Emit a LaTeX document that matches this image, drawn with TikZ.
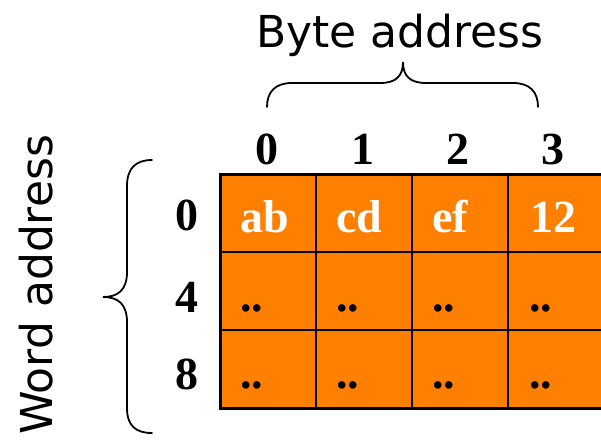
\documentclass[tikz,border=0pt]{standalone}
\usepackage{fontspec}
\setmainfont{Liberation Serif}
\newfontfamily\handfont{DejaVu Sans}
\definecolor{cellorange}{RGB}{255,128,0}
\tikzset{
  grid line/.style={line width=2.6pt, draw=black},
  brace line/.style={line width=1.8pt, draw=black, line cap=round},
  collabel/.style={font=\fontsize{46}{46}\selectfont\bfseries, anchor=base},
  rowlabel/.style={font=\fontsize{46}{46}\selectfont\bfseries, anchor=base east},
  celltext/.style={font=\fontsize{46}{46}\selectfont\bfseries, text=white, anchor=base west, inner sep=0pt},
  celldots/.style={font=\fontsize{46}{46}\selectfont\bfseries, text=black, anchor=base west, inner sep=0pt},
  title/.style={font=\handfont\fontsize{44}{44}\selectfont, anchor=base, inner sep=0pt},
}
\begin{document}
\begin{tikzpicture}[x=1pt,y=-1pt]
\useasboundingbox (0,0) rectangle (601,440);
\clip (0,0) rectangle (601,440);
% grid
\fill[cellorange] (220,174) rectangle (604,408);
\foreach \x in {316,412,508} \draw[grid line] (\x,174) -- (\x,408);
\foreach \y in {252,330} \draw[grid line] (220,\y) -- (604,\y);
\draw[grid line, line width=3pt] (220,174) rectangle (604,408);
% column labels
\node[collabel] (c0) at (267,164) {0};
\node[collabel] (c1) at (363,164) {1};
\node[collabel] (c2) at (458,164) {2};
\node[collabel] (c3) at (553,164) {3};
% row labels
\node[rowlabel, inner sep=0pt] (r0) at (199,230) {0};
\node[rowlabel, inner sep=0pt] (r4) at (199,312) {4};
\node[rowlabel, inner sep=0pt] (r8) at (199,389) {8};
% cell contents
\node[celltext] (v00) at (240,232) {ab};
\node[celltext] (v01) at (336,232) {cd};
\node[celltext] (v02) at (432,232) {ef};
\node[celltext] (v03) at (530,232) {12};
\foreach \x [count=\i] in {240,336,432,529} {
  \node[celldots] (d1\i) at (\x,311) {..};
  \node[celldots] (d2\i) at (\x,388) {..};
}
% top brace
\draw[brace line] (267,107) .. controls (267,92) and (275,83) .. (292,83) -- (380,83)
  .. controls (396,83) and (403,76) .. (403,62)
  .. controls (403,76) and (410,83) .. (426,83) -- (513,83)
  .. controls (530,83) and (538,92) .. (538,107);
\node[title] (byte) at (400,47) {Byte address};
% left brace
\draw[brace line] (152,160) .. controls (136,160) and (127,168) .. (127,186) -- (127,272)
  .. controls (127,290) and (118,297) .. (103,297)
  .. controls (118,297) and (127,304) .. (127,322) -- (127,408)
  .. controls (127,426) and (136,433) .. (152,433);
\node[title, rotate=90] (word) at (52,285) {Word address};
\end{tikzpicture}
\end{document}
